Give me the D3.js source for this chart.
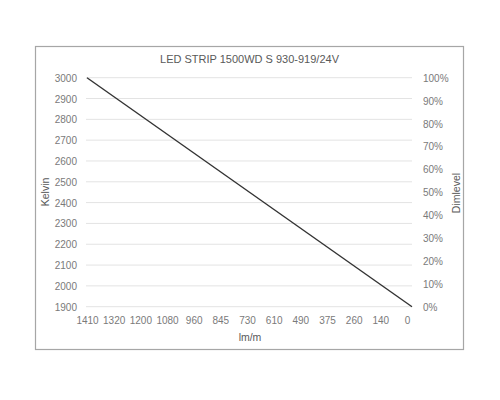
<!DOCTYPE html>
<html><head><meta charset="utf-8">
<script src="https://cdn.jsdelivr.net/npm/d3@7"></script>
<style>html,body{margin:0;padding:0;background:#fff;}svg{display:block;font-family:"Liberation Sans",Arial,sans-serif;}</style>
</head><body><svg id="c" width="500" height="400"></svg>
<script>
const title = "LED STRIP 1500WD S 930-919/24V";
const lmLabels = ["1410","1320","1200","1080","960","845","730","610","490","375","260","140","0"];
const kelvinTicks = [1900,2000,2100,2200,2300,2400,2500,2600,2700,2800,2900,3000];
const dimTicks = [0,10,20,30,40,50,60,70,80,90,100];
const lineDim = [100, 0];
const lineKelvin = [3000, 1900];

const svg = d3.select("#c");
const pTop = 77.7, pBottom = 306.7, pLeft = 87, pRight = 412;

svg.append("rect").attr("x",35.5).attr("y",46.5).attr("width",428).attr("height",303)
  .attr("fill","#fff").attr("stroke","#a6a6a6").attr("stroke-width",1.2);

const yK = d3.scaleLinear().domain([1900,3000]).range([pBottom, pTop]);
const yD = d3.scaleLinear().domain([0,100]).range([pBottom, pTop]);
const xLab = d3.scalePoint().domain(lmLabels).range([pLeft, 407]);
const xLine = d3.scaleLinear().domain([100,0]).range([pLeft, pRight]);

// gridlines
svg.append("g").selectAll("line").data(kelvinTicks).join("line")
  .attr("x1",pLeft-1).attr("x2",pRight).attr("y1",d=>yK(d)).attr("y2",d=>yK(d))
  .attr("stroke","#e3e3e3").attr("stroke-width",1);

// left axis
const gl = svg.append("g").attr("transform",`translate(${pLeft-10},0)`)
  .call(d3.axisLeft(yK).tickValues(kelvinTicks).tickSize(0).tickPadding(0).tickFormat(d3.format("d")));
gl.select(".domain").remove();
gl.selectAll("text").attr("fill","#7a7a7a").style("font-size","10px").attr("dy","0.35em");

// right axis
const gr = svg.append("g").attr("transform",`translate(${pRight+11},0)`)
  .call(d3.axisRight(yD).tickValues(dimTicks).tickSize(0).tickPadding(0).tickFormat(d=>d+"%"));
gr.select(".domain").remove();
gr.selectAll("text").attr("fill","#7a7a7a").style("font-size","10px").attr("dy","0.35em");

// bottom axis
const gb = svg.append("g").attr("transform",`translate(0,${pBottom+10})`)
  .call(d3.axisBottom(xLab).tickSize(0).tickPadding(0));
gb.select(".domain").remove();
gb.selectAll("text").attr("fill","#7a7a7a").style("font-size","10px").attr("dy","0.71em");

// line
const pts = lineDim.map((d,i)=>[d, lineKelvin[i]]);
svg.append("path").datum(pts)
  .attr("d", d3.line().x(d=>xLine(d[0])).y(d=>yK(d[1])))
  .attr("fill","none").attr("stroke","#333").attr("stroke-width",1.4);

// titles
svg.append("text").attr("x",249.5).attr("y",63).attr("text-anchor","middle")
  .attr("fill","#595959").style("font-size","11px").text(title);
svg.append("text").attr("transform","translate(49,192) rotate(-90)").attr("text-anchor","middle")
  .attr("fill","#595959").style("font-size","10.5px").text("Kelvin");
svg.append("text").attr("transform","translate(460,193) rotate(-90)").attr("text-anchor","middle")
  .attr("fill","#595959").style("font-size","10.5px").text("Dimlevel");
svg.append("text").attr("x",250).attr("y",341).attr("text-anchor","middle")
  .attr("fill","#595959").style("font-size","10.5px").text("lm/m");
</script></body></html>
